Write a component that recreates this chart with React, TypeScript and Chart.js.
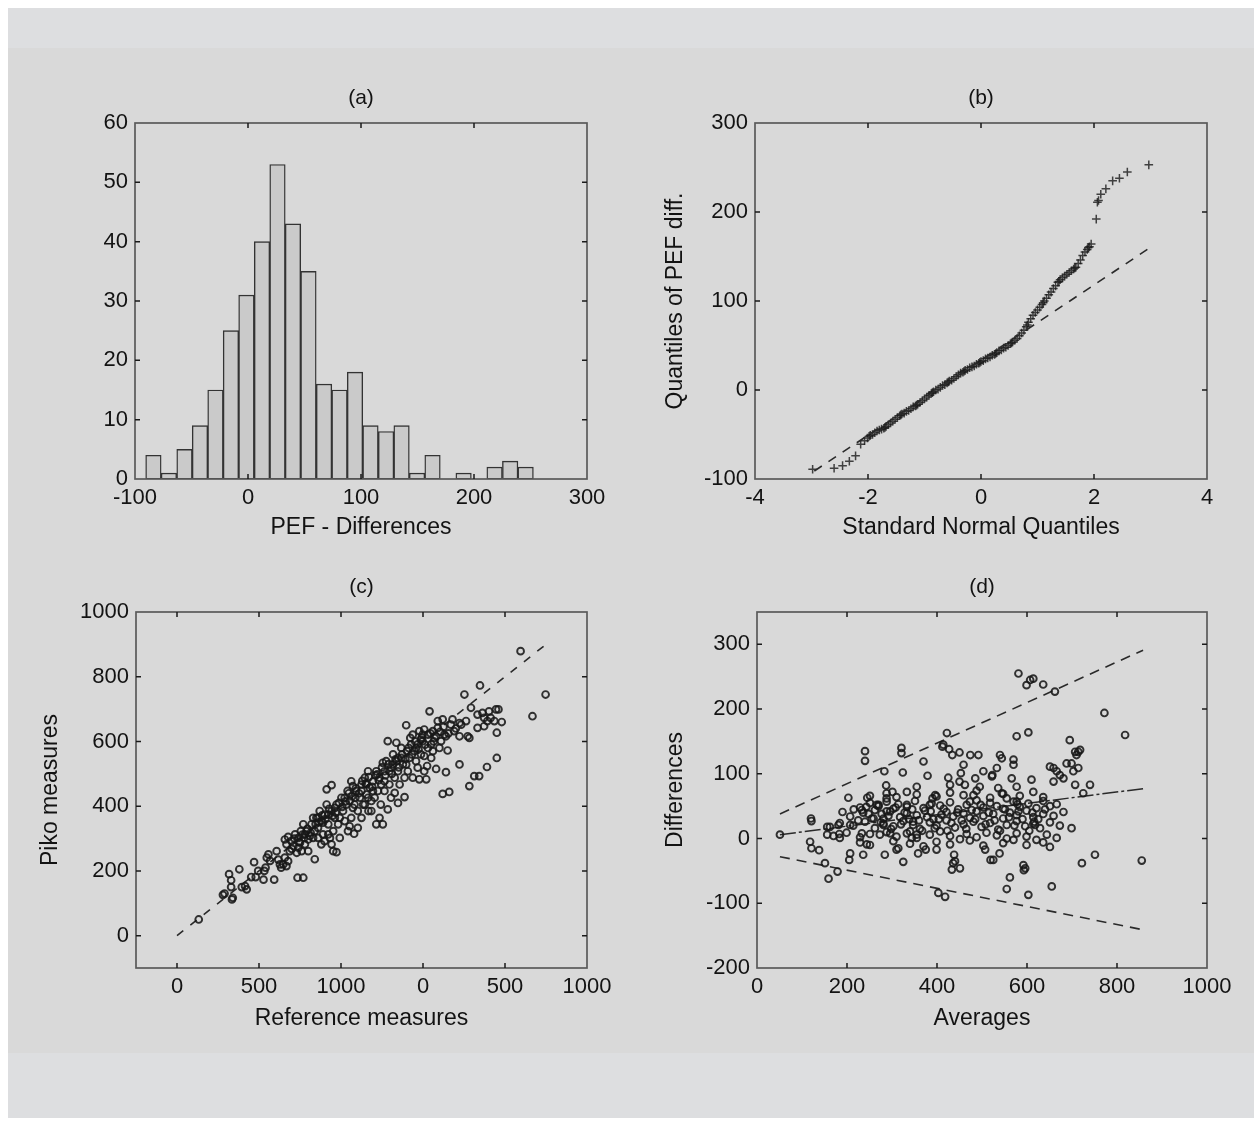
import React, { useEffect, useRef } from 'react';
import { Chart, registerables } from 'chart.js';

Chart.register(...registerables);

const FONT = '"Liberation Sans", Arial, Helvetica, sans-serif';
const INK = '#131313';

// ---------- (a) histogram ----------
const histBinCenters = [-83.7, -70.0, -56.2, -42.5, -28.8, -15.1, -1.4, 12.4, 26.1, 39.8, 53.5, 67.3, 81.0, 94.7, 108.4, 122.2, 135.9, 149.6, 163.3, 177.1, 190.8, 204.5, 218.2, 232.0, 245.7];
const histCounts = [4, 1, 5, 9, 15, 25, 31, 40, 53, 43, 35, 16, 15, 18, 9, 8, 9, 1, 4, 0, 1, 0, 2, 3, 2];
const aXTicks = [-100, 0, 100, 200, 300];
const aYTicks = [0, 10, 20, 30, 40, 50, 60];

// ---------- (b) normal QQ plot ----------
const qqPoints: [number, number][] = [
  [-2.98, -89], [-2.60, -88], [-2.45, -85], [-2.33, -80], [-2.22, -74], [-2.13, -61], [-2.06, -57], [-2.01, -54],
  [-1.96, -51], [-1.92, -50], [-1.88, -48], [-1.84, -46], [-1.80, -45], [-1.76, -44], [-1.72, -43], [-1.68, -41],
  [-1.64, -39], [-1.60, -37], [-1.56, -35], [-1.52, -33], [-1.48, -31], [-1.44, -29], [-1.40, -27], [-1.36, -26],
  [-1.32, -24], [-1.28, -23], [-1.24, -21], [-1.20, -19], [-1.16, -18], [-1.12, -16], [-1.08, -14], [-1.04, -12],
  [-1.00, -10], [-0.96, -8], [-0.92, -6], [-0.88, -4], [-0.84, -2], [-0.80, 0], [-0.76, 1], [-0.72, 3],
  [-0.68, 5], [-0.64, 6], [-0.60, 8], [-0.56, 10], [-0.52, 11], [-0.48, 13], [-0.44, 15], [-0.40, 17],
  [-0.36, 19], [-0.32, 20], [-0.28, 22], [-0.24, 23], [-0.20, 25], [-0.16, 26], [-0.12, 27], [-0.08, 29],
  [-0.04, 30], [0.00, 32], [0.04, 33], [0.08, 35], [0.12, 36], [0.16, 37], [0.20, 39], [0.24, 40],
  [0.28, 42], [0.32, 44], [0.36, 45], [0.40, 47], [0.44, 48], [0.48, 50], [0.52, 52], [0.56, 54],
  [0.60, 56], [0.64, 58], [0.68, 61], [0.72, 64], [0.76, 67], [0.80, 71], [0.84, 76], [0.88, 80],
  [0.92, 84], [0.96, 87], [1.00, 90], [1.04, 93], [1.08, 96], [1.12, 100], [1.16, 103], [1.20, 107],
  [1.24, 110], [1.28, 114], [1.32, 117], [1.36, 121], [1.40, 124], [1.44, 126], [1.48, 128], [1.52, 130],
  [1.56, 132], [1.60, 134], [1.64, 136], [1.68, 138], [1.72, 142], [1.76, 146], [1.80, 151], [1.84, 155],
  [1.88, 158], [1.92, 161], [1.95, 164], [2.04, 192], [2.06, 211], [2.08, 213], [2.12, 220], [2.21, 226],
  [2.33, 235], [2.45, 238], [2.59, 245], [2.97, 253],
  [-1.98, -52], [-1.70, -42], [-1.42, -28], [-1.14, -17], [-0.86, -3], [-0.58, 9], [-0.30, 21], [-0.02, 31],
  [0.26, 41], [0.54, 53], [0.82, 73], [1.10, 98], [1.38, 122], [1.66, 137], [1.90, 160],
];
const qqLine: [number, number][] = [[-2.95, -91], [2.97, 159]];
const bXTicks = [-4, -2, 0, 2, 4];
const bYTicks = [-100, 0, 100, 200, 300];

// ---------- (c) Piko vs reference ----------
const cPoints: [number, number][] = [
  [112, 126], [116, 130], [134, 112], [136, 117], [127, 190], [132, 171], [132, 150], [152, 205], [158, 150], [166, 153], [170, 143],
  [181, 181], [188, 227], [192, 181], [198, 200], [211, 173], [213, 200], [216, 210], [219, 241], [223, 251], [227, 231], [237, 173], [243, 261], [247, 235], [251, 220], [254, 210],
  [263, 297], [267, 282], [271, 305], [275, 261], [279, 292], [284, 277], [288, 313], [292, 256], [296, 272], [296, 302], [300, 287], [302, 323], [304, 261], [308, 344], [310, 302], [312, 282], [316, 323], [320, 261], [324, 308], [328, 344], [332, 364], [332, 302], [336, 236], [336, 323], [294, 179], [308, 179], [267, 215], [263, 241], [259, 220], [271, 230],
  [340, 364], [344, 333], [348, 385], [352, 354], [356, 313], [360, 374], [365, 405], [365, 452], [369, 344], [373, 302], [377, 465], [377, 385], [377, 282], [381, 323], [385, 364], [389, 405], [389, 258], [393, 344], [397, 302], [401, 426], [405, 385], [409, 354], [413, 405], [416, 447], [417, 323], [381, 261], [344, 302], [352, 282], [360, 292], [369, 313],
  [421, 338], [425, 477], [429, 462], [432, 315], [433, 405], [437, 447], [441, 385], [446, 426], [450, 467], [454, 405], [458, 488], [462, 436], [466, 508], [467, 385], [470, 457], [474, 385], [478, 477], [482, 426], [486, 344], [488, 498], [490, 447], [494, 364], [497, 405], [498, 467], [474, 416], [450, 364], [458, 405], [425, 364], [429, 395], [441, 333],
  [502, 344], [502, 534], [506, 508], [510, 539], [514, 601], [514, 390], [518, 467], [522, 519], [527, 560], [531, 488], [531, 441], [535, 596], [535, 539], [539, 410], [539, 508], [543, 467], [547, 549], [551, 529], [555, 428], [555, 488], [559, 650], [561, 570], [563, 508], [567, 549], [571, 591], [575, 621], [575, 488], [579, 570], [506, 447], [522, 426],
  [583, 539], [587, 591], [587, 519], [591, 483], [595, 560], [599, 621], [599, 601], [603, 555], [603, 508], [608, 483], [610, 524], [612, 580], [616, 693], [620, 549], [624, 570], [624, 632], [628, 611], [632, 616], [632, 515], [636, 642], [640, 580], [644, 601], [648, 668], [648, 438], [652, 621], [656, 616], [656, 505], [660, 572], [603, 637], [591, 632],
  [664, 444], [672, 668], [676, 632], [689, 657], [689, 616], [689, 529], [693, 652], [701, 745], [709, 616], [713, 611], [713, 462], [717, 704], [725, 493], [733, 683], [733, 642], [737, 493], [739, 773], [745, 688], [749, 647], [756, 521], [757, 663], [761, 693], [765, 673], [774, 663], [778, 699], [780, 627], [780, 549], [784, 699], [792, 660], [749, 673],
  [53, 50], [838, 879], [867, 678], [899, 745],
  [312, 313], [320, 297], [344, 364], [356, 349], [369, 374], [385, 395], [397, 364], [409, 426], [421, 416], [435, 426], [450, 447], [462, 467], [466, 426], [478, 447], [486, 508], [494, 488], [506, 477], [518, 508], [527, 529], [539, 549], [547, 580], [559, 529], [569, 611], [583, 580], [595, 606], [612, 621], [620, 591], [636, 663], [668, 652], [705, 663],
  [280, 268], [286, 300], [298, 290], [306, 312], [318, 330], [326, 318], [338, 345], [346, 350], [354, 372], [362, 360], [371, 392], [379, 370], [387, 380], [395, 410], [403, 398], [411, 415], [419, 440], [427, 430], [436, 455], [444, 440], [452, 478], [460, 470], [468, 490], [476, 460], [484, 495], [492, 480], [500, 520], [508, 495], [516, 530], [524, 500], [533, 545], [541, 520], [549, 560], [557, 545], [565, 580], [573, 560], [581, 600], [589, 575], [597, 612], [605, 590], [618, 625], [626, 600], [642, 630], [650, 645], [662, 625], [680, 640],
];
const cLine: [number, number][] = [[0, 0], [900, 900]];
const cXTicks = [0, 200, 400, 600, 800, 1000];
const cXTickLabels = ['0', '500', '1000', '0', '500', '1000'];
const cYTicks = [0, 200, 400, 600, 800, 1000];

// ---------- (d) Bland-Altman ----------
const dPoints: [number, number][] = [
  [51, 6], [120, 31], [121, 27], [118, -5], [121, -15], [138, -18], [151, -38], [159, -62], [179, -51], [156, 6], [156, 18], [181, 21], [184, 1], [183, 7],
  [190, 41], [203, 63], [207, 21], [207, -23], [205, -33], [233, 8], [233, 44], [243, 49], [245, 63], [240, 120], [240, 135], [236, -25], [244, -9],
  [255, 31], [266, 52], [270, 52], [273, 6], [281, 21], [281, 31], [288, 42], [288, 62], [283, 104], [284, -25], [287, 82], [296, 8], [301, 72],
  [310, -17], [314, -15], [321, 140], [321, 132], [324, 102], [325, -36], [333, 52], [340, 11], [344, 1], [347, 26], [355, 80], [355, 6], [358, -23],
  [370, 119], [375, -17], [379, 97], [384, 52], [390, 62], [396, 67], [399, -17], [403, -84], [418, -90], [414, 145], [412, 142], [422, 163],
  [427, 138], [434, 129], [425, 94], [429, 83], [433, -48], [436, -38], [451, -46], [438, -25], [440, -35], [450, 133], [450, 88], [453, 101],
  [459, 114], [462, 83], [474, 129], [492, 129], [473, 57], [481, 67], [485, 93], [495, 80], [503, 104], [507, -17], [519, -33], [525, -33],
  [522, 96], [523, 98], [533, 109], [536, 78], [539, -23], [544, 124], [540, 129], [544, 70], [555, 62], [555, -78], [562, -60], [566, 93],
  [570, 122], [570, 114], [577, 158], [577, 80], [581, 255], [577, 57], [579, 53], [592, -41], [596, -46], [593, -49], [603, 164], [599, 237],
  [607, 245], [614, 247], [610, 91], [603, -87], [616, 26], [618, 21], [636, 238], [655, -74], [662, 227], [651, 111], [659, 109], [659, 88],
  [666, 104], [673, 98], [681, 93], [688, 116], [695, 152], [699, 116], [703, 104], [707, 134], [710, 129], [714, 134], [718, 137], [699, 16],
  [707, 83], [714, 109], [740, 83], [725, 70], [722, -38], [751, -25], [772, 194], [818, 160], [855, -34],
  [229, 48], [251, 55], [270, 50], [288, 57], [303, 46], [314, 53], [333, 49], [351, 58], [370, 47], [388, 54], [407, 51], [429, 56], [447, 45],
  [466, 52], [488, 59], [503, 48], [518, 55], [533, 50], [547, 46], [570, 57], [584, 49], [603, 54], [621, 47], [636, 58], [651, 50], [666, 53],
  [207, 34], [236, 40], [259, 31], [277, 38], [296, 42], [318, 33], [333, 39], [355, 36], [373, 43], [392, 30], [410, 37], [421, 41], [436, 34],
  [459, 39], [473, 32], [488, 42], [503, 35], [525, 38], [547, 31], [562, 40], [577, 36], [599, 43], [614, 33], [636, 38], [659, 35], [681, 41],
  [162, 18], [184, 24], [214, 20], [240, 26], [262, 16], [281, 23], [303, 19], [325, 27], [347, 21], [362, 15], [384, 25], [399, 20], [421, 28],
  [440, 17], [459, 22], [481, 26], [499, 18], [518, 24], [536, 14], [555, 21], [577, 27], [596, 19], [614, 23], [629, 16], [651, 25], [673, 20],
  [170, 4], [199, 9], [229, 2], [251, 7], [288, 10], [310, 3], [333, 8], [355, 1], [384, 6], [407, 11], [429, 4], [451, -1], [466, 7],
  [488, 2], [510, 9], [533, 5], [555, 0], [577, 8], [599, 3], [621, -2], [644, 6], [666, 1],
  [251, 66], [288, 70], [310, 64], [333, 72], [355, 68], [399, 65], [429, 71], [459, 67], [488, 74], [518, 63], [547, 69], [584, 66], [614, 72], [636, 64],
  [229, -6], [251, -10], [303, -4], [340, -8], [370, -12], [399, -5], [429, -9], [473, -3], [503, -11], [547, -7], [570, -2], [599, -10], [636, -6], [651, -13],
  [215, 45], [225, 28], [248, 38], [262, 44], [275, 25], [292, 35], [298, 15], [308, 48], [320, 22], [328, 40], [338, 30], [345, 45], [360, 28], [367, 12],
  [378, 33], [386, 42], [395, 16], [404, 30], [415, 46], [423, 12], [432, 24], [445, 40], [455, 28], [465, 15], [477, 44], [485, 30], [497, 52], [508, 22],
  [515, 40], [528, 28], [540, 12], [551, 45], [560, 33], [572, 20], [581, 42], [590, 30], [605, 12], [612, 40], [625, 30], [640, 45],
];
const dMeanLine: [number, number][] = [[51, 6], [858, 77]];
const dUpperLine: [number, number][] = [[51, 38], [858, 291]];
const dLowerLine: [number, number][] = [[51, -28], [858, -141]];
const dXTicks = [0, 200, 400, 600, 800, 1000];
const dYTicks = [-200, -100, 0, 100, 200, 300];

// ---------- helpers ----------
const toXY = (pts: [number, number][]) => pts.map(([x, y]) => ({ x, y }));

const matlabBox = {
  id: 'matlabBox',
  afterDatasetsDraw(chart: any, _args: any, opts: any) {
    const { ctx, chartArea: a } = chart;
    const xs = chart.scales.x;
    const ys = chart.scales.y;
    ctx.save();
    ctx.lineWidth = 1.7;
    ctx.strokeStyle = '#5a5a5a';
    ctx.strokeRect(a.left, a.top, a.right - a.left, a.bottom - a.top);
    ctx.lineWidth = 1.5;
    ctx.strokeStyle = '#1a1a1a';
    const L = 5;
    ctx.beginPath();
    for (const t of xs.ticks) {
      const p = xs.getPixelForValue(t.value);
      if (p < a.left + 2 || p > a.right - 2) continue;
      ctx.moveTo(p, a.bottom); ctx.lineTo(p, a.bottom - L);
      ctx.moveTo(p, a.top); ctx.lineTo(p, a.top + L);
    }
    for (const t of ys.ticks) {
      const p = ys.getPixelForValue(t.value);
      if (p < a.top + 2 || p > a.bottom - 2) continue;
      ctx.moveTo(a.left, p); ctx.lineTo(a.left + L, p);
      ctx.moveTo(a.right, p); ctx.lineTo(a.right - L, p);
    }
    ctx.stroke();
    if (opts && opts.title) {
      ctx.fillStyle = INK;
      ctx.font = `21px ${FONT}`;
      ctx.textAlign = 'center';
      ctx.textBaseline = 'middle';
      ctx.fillText(opts.title, (a.left + a.right) / 2, a.top - 25);
    }
    ctx.restore();
  },
};

type Spec = {
  left: number; top: number; width: number; height: number;
  area: { l: number; t: number; r: number; b: number };
  title: string;
  xMin: number; xMax: number; xTicks: number[]; xLabels?: string[]; xTitle: string; xTitleY: number;
  yMin: number; yMax: number; yTicks: number[]; yTitle?: string; yTitleX?: number;
};

function buildOptions(s: Spec): any {
  const wy = s.area.l - s.left;
  const hx = s.top + s.height - s.area.b;
  const half = 23 * 1.2 / 2;
  const tickFont = { family: FONT, size: 22 };
  const titleFont = { family: FONT, size: 23 };
  return {
    responsive: false,
    maintainAspectRatio: false,
    animation: false,
    events: [],
    layout: { padding: { top: s.area.t - s.top, right: s.left + s.width - s.area.r, left: 0, bottom: 0 } },
    plugins: { legend: { display: false }, tooltip: { enabled: false }, matlabBox: { title: s.title } },
    scales: {
      x: {
        type: 'linear', position: 'bottom', min: s.xMin, max: s.xMax, offset: false,
        grid: { display: false, drawTicks: false }, border: { display: false },
        afterBuildTicks: (sc: any) => { sc.ticks = s.xTicks.map((v) => ({ value: v })); },
        afterFit: (sc: any) => { sc.height = hx; },
        ticks: {
          font: tickFont, color: INK, padding: 6, maxRotation: 0, minRotation: 0, autoSkip: false,
          callback: (v: any, i: number) => (s.xLabels ? s.xLabels[i] : String(v)),
        },
        title: {
          display: true, text: s.xTitle, font: titleFont, color: INK,
          padding: { top: 0, bottom: s.top + s.height - half - s.xTitleY },
        },
      },
      y: {
        type: 'linear', position: 'left', min: s.yMin, max: s.yMax,
        grid: { display: false, drawTicks: false }, border: { display: false },
        afterBuildTicks: (sc: any) => { sc.ticks = s.yTicks.map((v) => ({ value: v })); },
        afterFit: (sc: any) => { sc.width = wy; },
        ticks: { font: tickFont, color: INK, padding: 7, autoSkip: false, callback: (v: any) => String(v) },
        title: {
          display: !!s.yTitle, text: s.yTitle || '', font: titleFont, color: INK,
          padding: { top: (s.yTitleX || 0) - s.left - half, bottom: 0 },
        },
      },
    },
  };
}

const markerInk = 'rgba(24,24,24,0.88)';
const dashInk = '#2a2a2a';

function lineSet(pts: [number, number][], dash: number[]) {
  return {
    type: 'line', data: toXY(pts), showLine: true, borderColor: dashInk, borderWidth: 1.6,
    borderDash: dash, pointRadius: 0, fill: false, tension: 0,
  };
}

const specA: Spec = {
  left: 20, top: 70, width: 600, height: 480, area: { l: 135, t: 123, r: 587, b: 479 }, title: '(a)',
  xMin: -100, xMax: 300, xTicks: aXTicks, xTitle: 'PEF - Differences', xTitleY: 528,
  yMin: 0, yMax: 60, yTicks: aYTicks,
};
const specB: Spec = {
  left: 640, top: 70, width: 600, height: 480, area: { l: 755, t: 123, r: 1207, b: 479 }, title: '(b)',
  xMin: -4, xMax: 4, xTicks: bXTicks, xTitle: 'Standard Normal Quantiles', xTitleY: 528,
  yMin: -100, yMax: 300, yTicks: bYTicks, yTitle: 'Quantiles of PEF diff.', yTitleX: 676,
};
const specC: Spec = {
  left: 20, top: 560, width: 600, height: 480, area: { l: 136, t: 612, r: 587, b: 968 }, title: '(c)',
  xMin: -100, xMax: 1000, xTicks: cXTicks, xLabels: cXTickLabels, xTitle: 'Reference measures', xTitleY: 1019,
  yMin: -100, yMax: 1000, yTicks: cYTicks, yTitle: 'Piko measures', yTitleX: 51,
};
const specD: Spec = {
  left: 640, top: 560, width: 600, height: 480, area: { l: 757, t: 612, r: 1207, b: 968 }, title: '(d)',
  xMin: 0, xMax: 1000, xTicks: dXTicks, xTitle: 'Averages', xTitleY: 1019,
  yMin: -200, yMax: 350, yTicks: dYTicks, yTitle: 'Differences', yTitleX: 676,
};

function configA(): any {
  return {
    type: 'bar',
    data: {
      datasets: [{
        data: histBinCenters.map((c, i) => ({ x: c, y: histCounts[i] })),
        backgroundColor: '#cacaca', borderColor: '#333333', borderWidth: 1.4, borderSkipped: false,
        barPercentage: 1, categoryPercentage: 1,
      }],
    },
    options: buildOptions(specA),
    plugins: [matlabBox],
  };
}

function configB(): any {
  return {
    type: 'scatter',
    data: {
      datasets: [
        lineSet(qqLine, [9, 8]),
        {
          data: toXY(qqPoints), pointStyle: 'cross', pointRadius: 4.3, pointBorderWidth: 1.5,
          pointBorderColor: 'rgba(25,25,25,0.8)', pointBackgroundColor: 'rgba(0,0,0,0)', showLine: false,
        },
      ],
    },
    options: buildOptions(specB),
    plugins: [matlabBox],
  };
}

function circleSet(pts: [number, number][]) {
  return {
    data: toXY(pts), pointStyle: 'circle', pointRadius: 3.4, pointBorderWidth: 1.9,
    pointBorderColor: markerInk, pointBackgroundColor: 'rgba(0,0,0,0)', showLine: false,
  };
}

function configC(): any {
  return {
    type: 'scatter',
    data: { datasets: [circleSet(cPoints), lineSet(cLine, [8, 9])] },
    options: buildOptions(specC),
    plugins: [matlabBox],
  };
}

function configD(): any {
  return {
    type: 'scatter',
    data: {
      datasets: [
        circleSet(dPoints),
        lineSet(dUpperLine, [10, 7]),
        lineSet(dLowerLine, [10, 7]),
        { ...lineSet(dMeanLine, [16, 3, 3, 3]), borderWidth: 1.5 },
      ],
    },
    options: buildOptions(specD),
    plugins: [matlabBox],
  };
}

function Panel({ spec, make }: { spec: Spec; make: () => any }) {
  const ref = useRef<HTMLCanvasElement>(null);
  useEffect(() => {
    const chart = new Chart(ref.current as HTMLCanvasElement, make());
    return () => chart.destroy();
  }, []);
  return (
    <canvas
      ref={ref}
      width={spec.width}
      height={spec.height}
      style={{ position: 'absolute', left: spec.left, top: spec.top, width: spec.width, height: spec.height }}
    />
  );
}

export default function App() {
  return (
    <div style={{ position: 'absolute', left: 0, top: 0, width: 1254, height: 1122, background: '#ffffff', overflow: 'hidden' }}>
      <div style={{ position: 'absolute', left: 8, top: 8, width: 1246, height: 1110, background: 'rgb(221,222,224)' }} />
      <div style={{ position: 'absolute', left: 8, top: 48, width: 1246, height: 1005, background: 'rgb(217,217,217)' }} />
      <Panel spec={specA} make={configA} />
      <Panel spec={specB} make={configB} />
      <Panel spec={specC} make={configC} />
      <Panel spec={specD} make={configD} />
    </div>
  );
}
